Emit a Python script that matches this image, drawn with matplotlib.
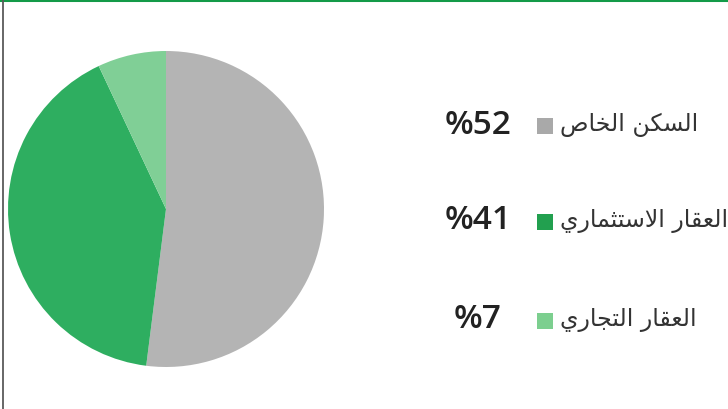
import matplotlib
matplotlib.use("Agg")
import matplotlib.pyplot as plt
from matplotlib.lines import Line2D

# data (clockwise from the top)
shares = [52, 41, 7]
pct_labels = ["%52", "%41", "%7"]
# Arabic labels, pre-shaped (presentation forms, visual order) since matplotlib does no shaping
names = [
    "\uFEB9\uFE8E\uFEA8\uFEDF\uFE8D \uFEE6\uFEDC\uFEB4\uFEDF\uFE8D",                       # السكن الخاص
    "\uFEF1\uFEAD\uFE8E\uFEE4\uFE9C\uFE98\uFEB3\uFEFB\uFE8D \uFEAD\uFE8E\uFED8\uFECC\uFEDF\uFE8D",  # العقار الاستثماري
    "\uFEF1\uFEAD\uFE8E\uFEA0\uFE98\uFEDF\uFE8D \uFEAD\uFE8E\uFED8\uFECC\uFEDF\uFE8D",        # العقار التجاري
]
pie_colors = ["#b4b4b4", "#2eae60", "#80cf96"]
box_colors = ["#a9a9a9", "#22a04f", "#7ccf8f"]

W, H = 728, 410
fig = plt.figure(figsize=(W / 100, H / 100), dpi=100)
fig.patch.set_facecolor("white")

# pie
cx, cy, r = 166, 210, 158
ax = fig.add_axes([(cx - r) / W, (H - cy - r) / H, 2 * r / W, 2 * r / H])
ax.pie(shares, colors=pie_colors, startangle=90, counterclock=False,
       wedgeprops=dict(linewidth=0))
ax.set_xlim(-1, 1)
ax.set_ylim(-1, 1)
ax.set_aspect("auto")
ax.axis("off")

# overlay in pixel coords for frame + legend
ov = fig.add_axes([0, 0, 1, 1], zorder=2)
ov.set_xlim(0, W)
ov.set_ylim(H, 0)
ov.axis("off")
ov.patch.set_alpha(0)

ov.add_line(Line2D([0, W], [0.8, 0.8], color="#139a48", lw=2.2))
ov.add_line(Line2D([2.5, 2.5], [0, H], color="#5a5a5a", lw=1.3))

row_y = [125, 221, 320]
for i in range(len(shares)):
    y = row_y[i]
    ov.text(478, y, pct_labels[i], ha="center", va="center", fontsize=24,
            family="Open Sans", fontweight="semibold", color="#222222")
    ov.scatter([545], [y + 2], marker="s", s=120, color=box_colors[i], linewidths=0)
    ov.text(560, y, names[i], ha="left", va="center", fontsize=17,
            family="DejaVu Sans", color="#333333", clip_on=False)

fig.savefig("out.png", dpi=100, facecolor="white")
